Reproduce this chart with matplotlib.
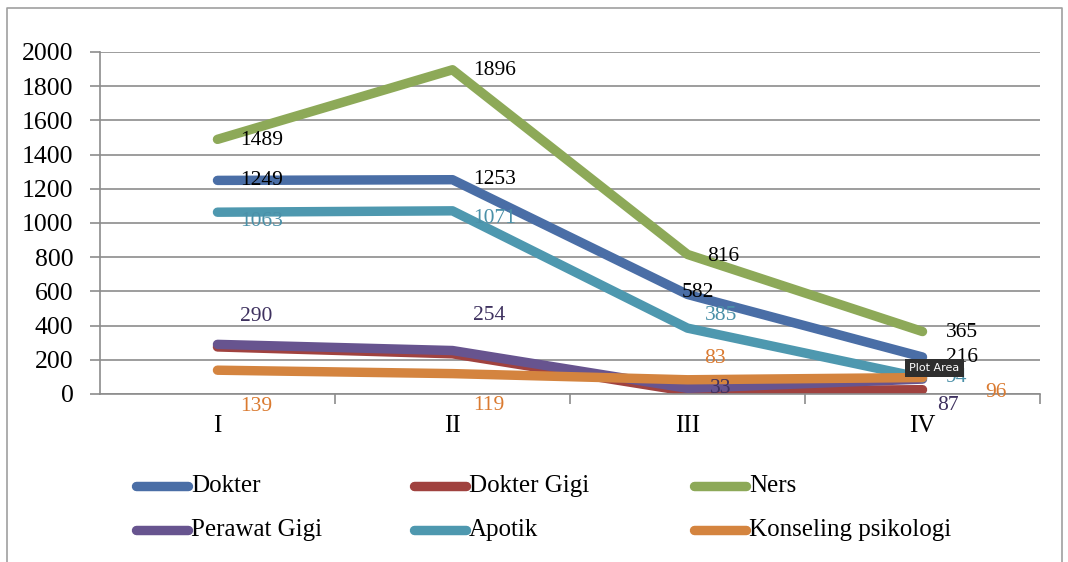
import matplotlib
matplotlib.use("Agg")
import matplotlib.pyplot as plt
from matplotlib.lines import Line2D

# data
categories = ["I", "II", "III", "IV"]
series_names = ["Dokter", "Dokter Gigi", "Ners", "Perawat Gigi", "Apotik", "Konseling psikologi"]
dokter = [1249, 1253, 582, 216]
dokter_gigi = [275, 235, 15, 25]
ners = [1489, 1896, 816, 365]
perawat_gigi = [290, 254, 33, 87]
apotik = [1063, 1071, 385, 94]
konseling = [139, 119, 83, 96]

line_colors = ["#4A6EA6", "#A0423F", "#8DA958", "#67548F", "#4E98AF", "#D4843F"]
label_colors = ["black", None, "black", "#3E315F", "#4A90A8", "#DA7A30"]
# label offsets in pixels (dx, dy) per point
label_offsets = {
    "Dokter": [(23, 0), (21, 0), (-6, 2), (23, 0)],
    "Ners": [(23, -1), (21, -1), (20, -2), (23, -1)],
    "Apotik": [(23, -9), (21, -8), (17, 13), (23, 0)],
    "Perawat Gigi": [(23, 28), (21, 35), (22, 0), (15, -26)],
    "Konseling psikologi": [(23, -36), (21, -32), (17, 21), (63, -15)],
}

plt.rcParams["font.family"] = ["Liberation Serif", "DejaVu Serif"]

fig = plt.figure(figsize=(10.68, 5.62), dpi=100)
# outer chart frame (bottom edge is cut off in the screenshot)
fig.lines.append(Line2D([0.007, 0.007, 0.994, 0.994], [0.0, 0.985, 0.985, 0.0],
                        transform=fig.transFigure, color="#A0A0A0", linewidth=1.2))
ax = fig.add_axes([0.0936, 0.299, 0.8802, 0.6085])

all_series = [dokter, dokter_gigi, ners, perawat_gigi, apotik, konseling]
x = list(range(len(categories)))
for name, vals, col in zip(series_names, all_series, line_colors):
    ax.plot(x, vals, color=col, linewidth=6.8, solid_capstyle="round",
            solid_joinstyle="round", label=name)

for name, vals, lc in zip(series_names, all_series, label_colors):
    if name not in label_offsets:
        continue
    for xi, v, (dx, dy) in zip(x, vals, label_offsets[name]):
        ax.annotate(str(v), (xi, v), xytext=(dx, dy), textcoords="offset pixels",
                    ha="left", va="center", fontsize=15.5, color=lc)

ax.set_xlim(-0.5, 3.5)
ax.set_ylim(0, 2000)
ax.set_yticks(range(0, 2001, 200))
ax.yaxis.grid(True, color="#8C8C8C", linewidth=1.2)
ax.set_axisbelow(True)
ax.set_xticks(x)
ax.set_xticklabels(categories)
ax.set_xticks([0.5, 1.5, 2.5, 3.5], minor=True)
ax.tick_params(axis="x", which="major", length=0, pad=15, labelsize=18)
ax.tick_params(axis="x", which="minor", length=7, color="#8C8C8C", width=1.2)
ax.tick_params(axis="y", length=7, color="#8C8C8C", width=1.2, pad=12, labelsize=18.5)
for s in ["top", "right"]:
    ax.spines[s].set_visible(False)
for s in ["left", "bottom"]:
    ax.spines[s].set_color("#8C8C8C")
    ax.spines[s].set_linewidth(1.2)

# tooltip from the screenshot
ax.annotate("Plot Area", (3, 94), xytext=(12, 10), textcoords="offset pixels",
            ha="center", va="center", fontsize=8, color="white", family="DejaVu Sans",
            bbox=dict(boxstyle="square,pad=0.35", facecolor="#2E2E2E", edgecolor="none"),
            zorder=10)

# legend, laid out row by row like the original
W, H = 1068, 562
col_x = [136, 414, 694]
row_y = [486, 530]
for i, (name, col) in enumerate(zip(series_names, line_colors)):
    lx = col_x[i % 3]
    ly = 1 - row_y[i // 3] / H
    fig.lines.append(Line2D([lx / W, (lx + 52) / W], [ly, ly], transform=fig.transFigure,
                            color=col, linewidth=6.8, solid_capstyle="round"))
    fig.text((lx + 55) / W, ly, name, ha="left", va="center", fontsize=18)

fig.savefig("out.png", dpi=100)
